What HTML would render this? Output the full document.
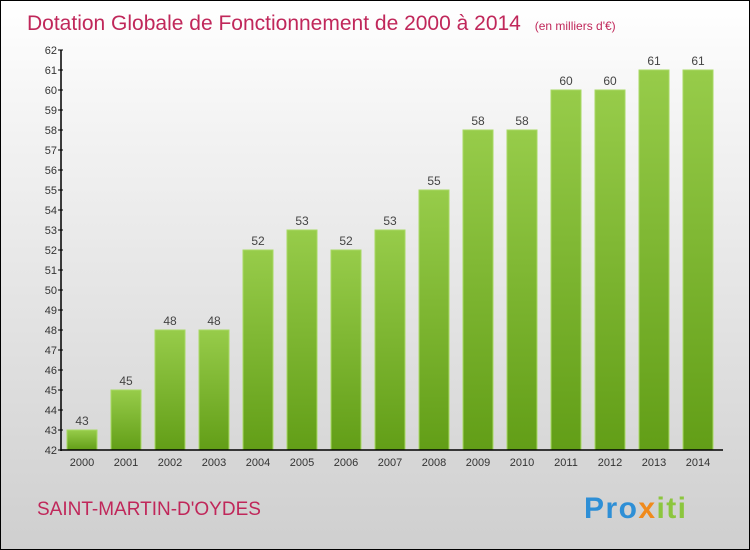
<!DOCTYPE html>
<html><head><meta charset="utf-8"><style>
body{margin:0}
#c{width:748px;height:548px;border:1px solid #000;background:linear-gradient(#fff,#f2f2f2 25%,#cfcfcf);position:relative;font-family:"Liberation Sans",sans-serif;overflow:hidden}
</style></head><body>
<div id="c">
<svg id="s" width="748" height="548">
<defs>
<linearGradient id="g" x1="0" y1="0" x2="0" y2="1"><stop offset="0" stop-color="#97cc4a"/><stop offset="1" stop-color="#629e17"/></linearGradient>
</defs>
<text x="26" y="29" font-size="21" fill="#c0275a">Dotation Globale de Fonctionnement de 2000 à 2014 <tspan font-size="12" dx="8">(en milliers d'€)</tspan></text>
<text x="36" y="514" font-size="19" fill="#c0275a">SAINT-MARTIN-D'OYDES</text>
<text x="583" y="517" font-size="30" font-weight="bold" textLength="102"><tspan fill="#2e8fd6">Pro</tspan><tspan fill="#f08a1c">x</tspan><tspan fill="#8cc63e">iti</tspan></text>
<g id="plot"></g>
</svg></div>
<script>
const years=["2000","2001","2002","2003","2004","2005","2006","2007","2008","2009","2010","2011","2012","2013","2014"];
const values=[43,45,48,48,52,53,52,53,55,58,58,60,60,61,61];
const yTicks=[42,43,44,45,46,47,48,49,50,51,52,53,54,55,56,57,58,59,60,61,62];
const yMin=42,yMax=62,pTop=49,pBot=449,axX=60;
const y=v=>pBot-(v-yMin)/(yMax-yMin)*(pBot-pTop);
const x=i=>81+i*44;
const g=document.getElementById('plot');const NS="http://www.w3.org/2000/svg";
function mk(t,a,txt){const e=document.createElementNS(NS,t);for(const k in a)e.setAttribute(k,a[k]);if(txt!==undefined)e.textContent=txt;g.appendChild(e);return e;}
values.forEach((v,i)=>{
 const r=mk('rect',{x:x(i)-15,y:y(v),width:30,height:pBot-y(v),fill:'url(#g)',stroke:'#a8d964','stroke-width':1});
 
 
 const t=mk('text',{x:x(i),y:y(v)-5,'text-anchor':'middle','font-size':12,fill:'#444'},v);
 
 
 const xl=mk('text',{x:x(i),y:pBot+16,'text-anchor':'middle','font-size':11,fill:'#333'},years[i]);
 
 
});
yTicks.forEach(v=>{
 const l=mk('line',{x1:axX-3,x2:axX+2,y1:y(v),y2:y(v),stroke:'#000'});
 
 
 const t=mk('text',{x:axX-4,y:y(v)+4,'text-anchor':'end','font-size':11,fill:'#333'},v);
 
 
});
const ya=mk('line',{x1:axX,x2:axX,y1:pTop,y2:pBot+1,stroke:'#000','stroke-width':1.5});


const xa=mk('line',{x1:axX,x2:722,y1:pBot,y2:pBot,stroke:'#000','stroke-width':1.5});


</script>
</body></html>
